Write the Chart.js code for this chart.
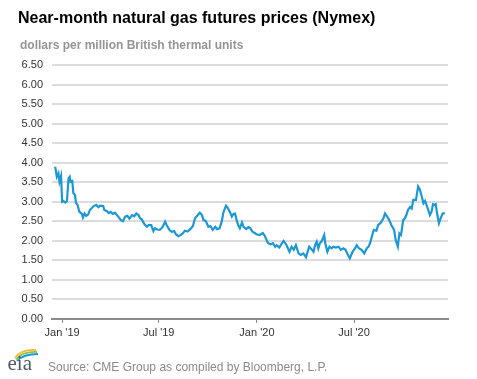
<!DOCTYPE html>
<html>
<head>
<meta charset="utf-8">
<script src="https://cdn.jsdelivr.net/npm/chart.js@4"></script>
<style>
  html,body{margin:0;padding:0;background:#fff;}
  body{width:477px;height:379px;position:relative;overflow:hidden;font-family:"Liberation Sans",Arial,sans-serif;}
  #title{position:absolute;left:18px;top:10px;font-size:16px;line-height:16px;font-weight:bold;color:#000;white-space:nowrap;}
  #subtitle{position:absolute;left:20px;top:39px;font-size:12px;line-height:12px;font-weight:bold;color:#959595;white-space:nowrap;}
  #source{position:absolute;left:48px;top:361px;font-size:12px;line-height:12px;color:#8a8a8a;white-space:nowrap;}
  #logo{position:absolute;left:6px;top:347px;}
  #c{position:absolute;left:0;top:0;}
</style>
</head>
<body>
<canvas id="c" width="477" height="379"></canvas>
<div id="title">Near-month natural gas futures prices (Nymex)</div>
<div id="subtitle">dollars per million British thermal units</div>
<svg id="logo" width="34" height="28" viewBox="0 0 34 28">
  <path d="M9 11 Q15 2 30 3" stroke="#f4b935" stroke-width="1.8" fill="none"/>
  <path d="M10 12.5 Q16 4.5 31 5" stroke="#8cc63f" stroke-width="1.8" fill="none"/>
  <path d="M11 14 Q17 7 32 7" stroke="#1e9ad6" stroke-width="1.8" fill="none"/>
  <text x="1.5" y="23" font-family="Liberation Serif, serif" font-size="21" fill="#4f5864">eia</text>
</svg>
<div id="source">Source: CME Group as compiled by Bloomberg, L.P.</div>
<script>
// Days counted from 1 Jan 2019
const dayOffsets = [-13,-10,-7,-5,-2,0,2,6,9,12,14,16,19,21,24,26,29,32,37,39,42,45,49,52,59,64,68,71,77,79,84,87,91,95,99,105,110,114,118,122,126,131,135,139,143,146,149,154,159,162,167,171,174,178,183,188,193,196,201,205,210,213,218,221,226,230,235,240,245,249,253,258,262,265,269,274,278,282,287,290,295,299,302,307,310,315,318,321,324,327,330,333,337,340,345,349,352,357,361,364,370,376,380,383,386,391,395,399,402,407,412,415,420,423,426,430,434,438,443,447,452,457,459,463,468,471,474,477,480,483,486,491,493,497,501,505,508,513,518,522,527,531,534,539,544,549,552,556,561,566,571,574,577,582,584,589,592,597,602,605,609,613,617,622,625,629,632,635,639,642,645,648,652,655,658,663,667,670,674,677,680,683,686,689,692,695,698,700,703,706,709,713,717];
const prices = [3.90,3.64,3.73,3.51,3.66,3.00,3.02,2.98,3.02,3.60,3.64,3.51,3.53,3.22,3.18,2.97,2.92,2.75,2.69,2.60,2.70,2.64,2.68,2.79,2.89,2.92,2.86,2.90,2.89,2.79,2.76,2.71,2.74,2.69,2.72,2.62,2.53,2.50,2.62,2.64,2.57,2.66,2.63,2.70,2.66,2.58,2.55,2.43,2.36,2.40,2.40,2.25,2.32,2.29,2.28,2.35,2.49,2.40,2.28,2.23,2.25,2.17,2.12,2.14,2.19,2.26,2.24,2.30,2.38,2.58,2.64,2.72,2.66,2.53,2.51,2.36,2.38,2.28,2.36,2.30,2.32,2.49,2.72,2.90,2.85,2.72,2.62,2.69,2.70,2.53,2.40,2.32,2.47,2.36,2.30,2.35,2.33,2.23,2.20,2.17,2.15,2.20,2.12,2.02,1.94,1.91,1.94,1.85,1.89,1.83,1.94,2.00,1.90,1.81,1.72,1.85,1.77,1.89,1.68,1.64,1.68,1.58,1.68,1.85,1.77,1.72,1.89,1.98,1.81,1.94,1.98,2.15,1.94,1.72,1.85,1.81,1.85,1.83,1.85,1.77,1.81,1.77,1.68,1.55,1.72,1.81,1.89,1.81,1.77,1.68,1.81,1.85,1.94,2.19,2.28,2.26,2.40,2.46,2.58,2.70,2.62,2.53,2.40,2.28,2.02,1.85,2.19,2.15,2.53,2.57,2.66,2.79,2.87,2.83,3.05,3.05,3.39,3.32,3.13,2.96,3.02,2.91,2.79,2.66,2.74,2.94,2.92,2.94,2.66,2.45,2.57,2.70,2.71];
const xTickDays = [0,181,365,547];
const xTickLabels = ["Jan '19","Jul '19","Jan '20","Jul '20"];
const yMin = 0, yMax = 6.5, yStep = 0.5;

const points = dayOffsets.map((d,i)=>({x:d,y:prices[i]}));

new Chart(document.getElementById('c'), {
  type: 'line',
  data: { datasets: [{
    data: points,
    borderColor: '#1b98d5',
    borderWidth: 2.2,
    pointRadius: 0,
    tension: 0,
    fill: false
  }]},
  options: {
    responsive: false,
    animation: false,
    events: [],
    layout: { padding: { left: 0, right: 29, top: 65, bottom: 0 } },
    plugins: { legend: { display: false }, tooltip: { enabled: false }, title: { display: false } },
    scales: {
      x: {
        type: 'linear',
        min: -19, max: 723,
        afterFit: s => { s.height = 60; },
        afterBuildTicks: s => { s.ticks = xTickDays.map(v => ({ value: v })); },
        ticks: {
          autoSkip: false, maxRotation: 0, padding: 3,
          color: '#333', font: { family: 'Liberation Sans, Arial', size: 11 },
          callback: (v) => { const i = xTickDays.indexOf(v); return i >= 0 ? xTickLabels[i] : ''; }
        },
        grid: { drawOnChartArea: false, drawTicks: true, tickLength: 4, color: '#8c8c8c', lineWidth: 1 },
        border: { display: true, color: '#8c8c8c', width: 2 }
      },
      y: {
        min: yMin, max: yMax,
        afterFit: s => { s.width = 52; },
        ticks: {
          stepSize: yStep, padding: 9,
          color: '#333', font: { family: 'Liberation Sans, Arial', size: 11 },
          callback: v => Number(v).toFixed(2)
        },
        grid: { drawTicks: false, color: '#dcdcdc', lineWidth: 2 },
        border: { display: false }
      }
    }
  }
});
</script>
</body>
</html>
